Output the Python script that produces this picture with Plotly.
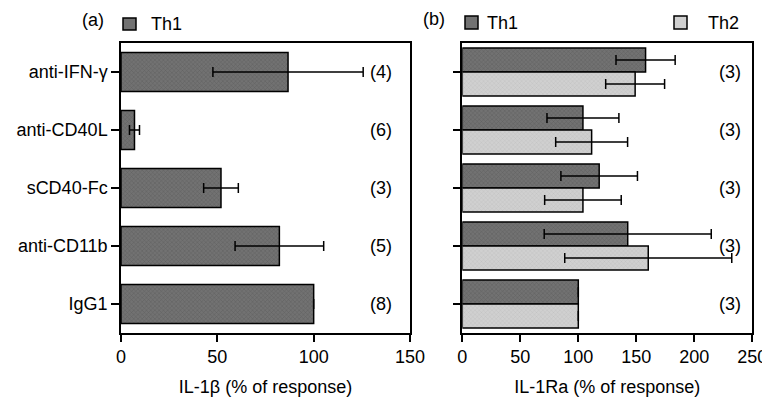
import plotly.graph_objects as go

categories = ["anti-IFN-γ", "anti-CD40L", "sCD40-Fc", "anti-CD11b", "IgG1"]

# Panel (a): IL-1beta, Th1
il1b_th1 = [86.7, 7.0, 51.9, 82.2, 100.0]
il1b_th1_err = [39.0, 2.6, 9.0, 23.0, 0.0]
il1b_n = ["(4)", "(6)", "(3)", "(5)", "(8)"]

# Panel (b): IL-1Ra, Th1 and Th2
il1ra_th1 = [158.0, 104.0, 118.0, 142.6, 100.0]
il1ra_th1_err = [25.5, 31.0, 33.0, 72.0, 0.0]
il1ra_th2 = [149.0, 111.5, 104.0, 160.3, 100.0]
il1ra_th2_err = [25.4, 31.0, 33.0, 72.0, 0.0]
il1ra_n = ["(3)", "(3)", "(3)", "(3)", "(3)"]

TH1_FILL = "#727272"
TH2_FILL = "#d0d0d0"
FONT = "Liberation Sans, Arial, sans-serif"
FS = 18

W, H = 762, 399
T, B = 43, 66


def py(p):
    return (H - B - p) / (H - T - B)


def pxx(p):
    return p / W


idx = list(range(len(categories)))
err_style = dict(type="data", visible=True, color="black", thickness=1.5, width=5)

fig = go.Figure()
fig.add_trace(go.Bar(
    x=il1b_th1, y=idx, orientation="h", width=0.67,
    marker=dict(color=TH1_FILL, line=dict(color="black", width=1.5),
                pattern=dict(shape="x", size=3, solidity=0.25, fgcolor="#454545", bgcolor=TH1_FILL)),
    error_x=dict(array=il1b_th1_err, **err_style),
    xaxis="x", yaxis="y", showlegend=False, name="Th1",
))
fig.add_trace(go.Bar(
    x=il1ra_th1, y=idx, orientation="h", width=0.415, offset=-0.415,
    marker=dict(color=TH1_FILL, line=dict(color="black", width=1.5),
                pattern=dict(shape="x", size=3, solidity=0.25, fgcolor="#454545", bgcolor=TH1_FILL)),
    error_x=dict(array=il1ra_th1_err, **err_style),
    xaxis="x2", yaxis="y2", showlegend=False, name="Th1",
))
fig.add_trace(go.Bar(
    x=il1ra_th2, y=idx, orientation="h", width=0.415, offset=0.0,
    marker=dict(color=TH2_FILL, line=dict(color="black", width=1.5),
                pattern=dict(shape="x", size=3, solidity=0.2, fgcolor="#a0a0a0", bgcolor=TH2_FILL)),
    error_x=dict(array=il1ra_th2_err, **err_style),
    xaxis="x2", yaxis="y2", showlegend=False, name="Th2",
))

annotations = []
for i, t in enumerate(il1b_n):
    annotations.append(dict(x=135, y=i, xref="x", yref="y", text=t, showarrow=False,
                            font=dict(size=FS, color="black", family=FONT)))
for i, t in enumerate(il1ra_n):
    annotations.append(dict(x=231, y=i, xref="x2", yref="y2", text=t, showarrow=False,
                            font=dict(size=FS, color="black", family=FONT)))

# panel labels and legend texts
for txt, xp, yp in [("(a)", 93, 20), ("(b)", 434, 19)]:
    annotations.append(dict(x=pxx(xp), y=py(yp), xref="paper", yref="paper", text=txt,
                            xanchor="center", yanchor="middle", showarrow=False,
                            font=dict(size=FS, color="black", family=FONT)))
for txt, xp, yp in [("Th1", 149, 24), ("Th1", 485, 23), ("Th2", 706, 23)]:
    annotations.append(dict(x=pxx(xp), y=py(yp), xref="paper", yref="paper", text=txt,
                            xanchor="left", yanchor="middle", showarrow=False,
                            font=dict(size=FS, color="black", family=FONT)))

shapes = []
for (x0, x1, y0, y1, col) in [(123, 136, 18, 30, TH1_FILL), (465, 478, 16, 29, TH1_FILL),
                              (674, 687, 16, 29, TH2_FILL)]:
    shapes.append(dict(type="rect", xref="paper", yref="paper",
                       x0=pxx(x0), x1=pxx(x1), y0=py(y1), y1=py(y0),
                       fillcolor=col, line=dict(color="black", width=1.5)))

axis_common = dict(showgrid=False, zeroline=False, showline=True, linecolor="black",
                   linewidth=1.5, mirror=True, ticks="outside", tickwidth=1.5,
                   tickcolor="black", automargin=False, ticklabeloverflow="allow",
                   tickfont=dict(size=FS, color="black", family=FONT))

fig.update_layout(
    width=W, height=H,
    margin=dict(l=0, r=0, t=T, b=B),
    paper_bgcolor="white", plot_bgcolor="white",
    barmode="overlay",
    font=dict(family=FONT, size=FS, color="black"),
    xaxis=dict(domain=[121 / W, 410 / W], range=[0, 150], tickvals=[0, 50, 100, 150],
               ticklen=7,
               title=dict(text="IL-1β (% of response)", standoff=14,
                          font=dict(size=FS, color="black", family=FONT)),
               anchor="y", **axis_common),
    yaxis=dict(domain=[0, 1], range=[4.5, -0.5], tickvals=idx, ticktext=categories,
               anchor="x", ticklen=8, **axis_common),
    xaxis2=dict(domain=[462.3 / W, 752.3 / W], range=[0, 250], tickvals=[0, 50, 100, 150, 200, 250],
                ticklen=7,
                title=dict(text="IL-1Ra (% of response)", standoff=14,
                           font=dict(size=FS, color="black", family=FONT)),
                anchor="y2", **axis_common),
    yaxis2=dict(domain=[0, 1], range=[4.5, -0.5], tickvals=idx, showticklabels=False,
                anchor="x2", ticklen=8, **axis_common),
    annotations=annotations,
    shapes=shapes,
)

fig.write_html("out.html", config={"displayModeBar": False},
               post_script="document.body.style.margin='0';document.body.style.overflow='hidden';")
